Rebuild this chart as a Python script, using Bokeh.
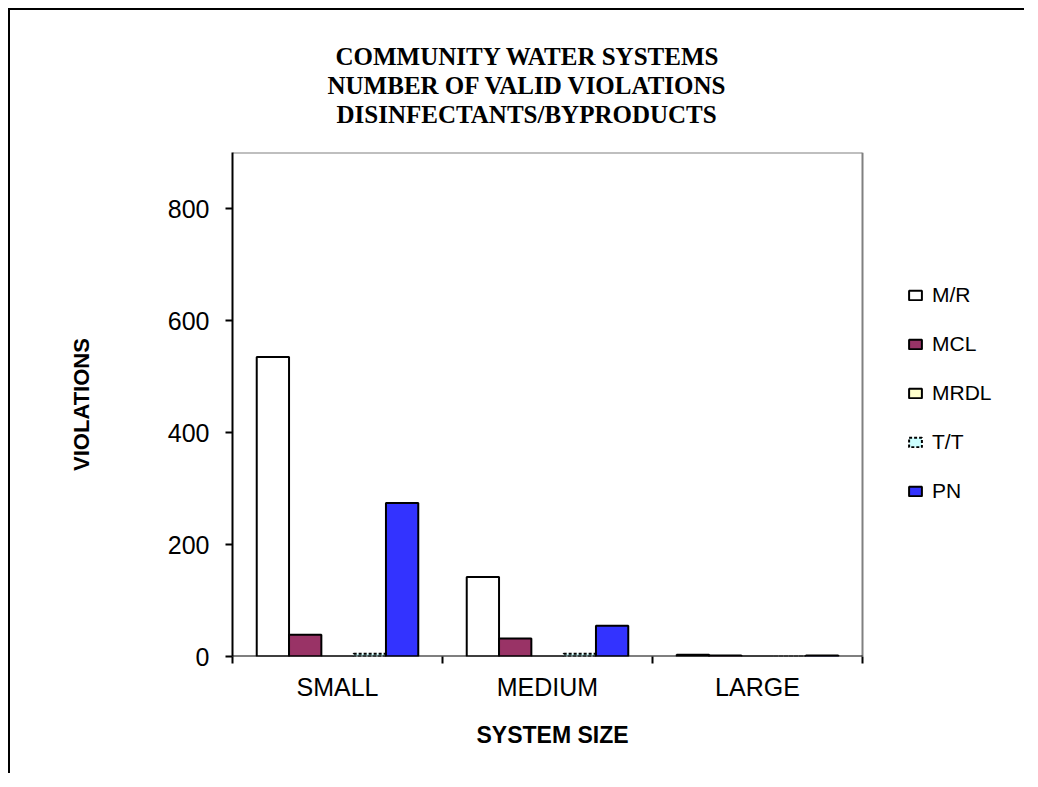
from bokeh.plotting import figure
from bokeh.models import Range1d, FixedTicker, Legend, LegendItem, Title, ColumnDataSource
from bokeh.embed import file_html
from bokeh.resources import INLINE

categories = ["SMALL", "MEDIUM", "LARGE"]
series = ["M/R", "MCL", "MRDL", "T/T", "PN"]
mr = [535, 142, 3]
mcl = [39, 32, 2]
mrdl = [0, 0, 0]
tt = [5, 5, 0]
pn = [274, 55, 2]
y_ticks = [0, 200, 400, 600, 800]
y_max = 900
title_lines = ["COMMUNITY WATER SYSTEMS", "NUMBER OF VALID VIOLATIONS", "DISINFECTANTS/BYPRODUCTS"]
x_title = "SYSTEM SIZE"
y_title = "VIOLATIONS"

values = [mr, mcl, mrdl, tt, pn]
fills = ["#FFFFFF", "#993366", "#FFFFCC", "#CCFFFF", "#3333FF"]
dashes = ["solid", "solid", "solid", "3 2", "solid"]
title_offsets = [103, 95, 104]

SANS = "Liberation Sans"
SERIF = "Liberation Serif"

# layout: plot area is 630 px wide, frame extended to the right to hold the legend
W, H = 1016, 765
B_LEFT, B_RIGHT, B_TOP = 222, 8, 142
PLOT_W, PLOT_H = 630, 504
FRAME_W = W - B_LEFT - B_RIGHT
ncat = len(categories)
x_end = ncat * FRAME_W / PLOT_W

p = figure(width=W, height=H, output_backend="svg", toolbar_location=None,
           x_range=Range1d(0, x_end), y_range=Range1d(0, y_max),
           min_border_left=B_LEFT, min_border_right=B_RIGHT, min_border_top=B_TOP,
           min_border_bottom=H - B_TOP - PLOT_H)
p.styles = {"border-left": "2px solid black", "border-top": "2px solid black",
            "margin-left": "8px", "margin-top": "8px"}
p.grid.visible = False
p.outline_line_color = None
p.background_fill_color = "white"
p.border_fill_color = "white"

# plot-area border (gray top/right)
p.segment(x0=[0, ncat], y0=[y_max, 0], x1=[ncat, ncat], y1=[y_max, y_max],
          line_color="#808080", line_width=2)

n = len(series)
w = 1.0 / (n + 1.5)
items = []
for k, (name, vals) in enumerate(zip(series, values)):
    xs = [i + 0.5 + (k - (n - 1) / 2) * w for i in range(ncat)]
    src = ColumnDataSource(dict(x=xs, top=vals))
    r = p.vbar(x="x", top="top", bottom=0, width=w, source=src,
               fill_color=fills[k], line_color="black", line_width=2,
               line_dash=dashes[k])
    items.append(LegendItem(label=name, renderers=[r]))

# black category-axis baseline under the plot area
p.segment(x0=[0], y0=[0], x1=[ncat], y1=[0], line_color="black", line_width=2)

# axes
xa = p.xaxis[0]
xa.ticker = FixedTicker(ticks=[i + 0.5 for i in range(ncat)],
                        minor_ticks=list(range(ncat + 1)))
xa.major_label_overrides = {i + 0.5: c for i, c in enumerate(categories)}
xa.major_tick_out = 0
xa.major_tick_in = 0
xa.minor_tick_out = 7
xa.minor_tick_in = 0
xa.minor_tick_line_width = 2
xa.minor_tick_line_color = "black"
xa.axis_line_color = None
xa.major_label_text_font = SANS
xa.major_label_text_font_size = "25px"
xa.major_label_text_color = "black"
xa.major_label_standoff = 9

ya = p.yaxis[0]
ya.ticker = FixedTicker(ticks=y_ticks, minor_ticks=[])
ya.major_tick_out = 7
ya.major_tick_in = 0
ya.major_tick_line_width = 2
ya.axis_line_width = 2
ya.axis_line_color = "black"
ya.major_label_text_font = SANS
ya.major_label_text_font_size = "25px"
ya.major_label_text_color = "black"
ya.major_label_standoff = 16
ya.axis_label = y_title
ya.axis_label_text_font = SANS
ya.axis_label_text_font_style = "bold"
ya.axis_label_text_font_size = "22px"
ya.axis_label_text_color = "black"
ya.axis_label_standoff = 71

# x axis title, centred under the plot area
xt = Title(text=x_title, align="left", offset=244, text_font=SANS,
           text_font_style="bold", text_font_size="23px", text_color="black",
           standoff=32)
p.add_layout(xt, "below")

# spacer between plot area and chart title
p.add_layout(Title(text=" ", text_font_size="21px", standoff=0), "above")
# chart title (stacked, last added is top)
for j in [2, 1, 0]:
    t = Title(text=title_lines[j], align="left", offset=title_offsets[j],
              text_font=SERIF, text_font_style="bold", text_font_size="25px",
              text_color="black", standoff=0)
    p.add_layout(t, "above")

legend = Legend(items=items, location=(PLOT_W + 45, 153), orientation="vertical",
                border_line_color=None, background_fill_alpha=0,
                label_text_font=SANS, label_text_font_size="21px",
                label_text_color="black", glyph_width=16, glyph_height=12,
                label_height=24, spacing=25, label_standoff=9,
                padding=4, margin=0)
p.add_layout(legend, "center")

open("out.html", "w").write(file_html(p, INLINE))
